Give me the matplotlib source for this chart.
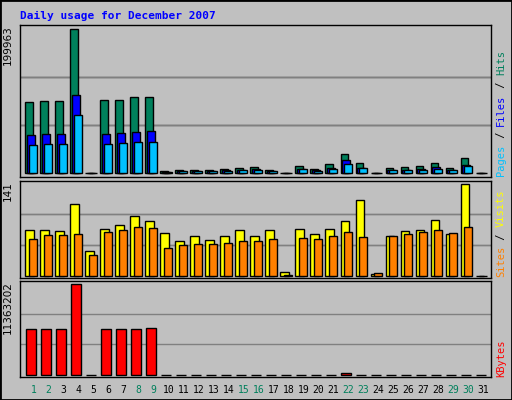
import numpy as np
import matplotlib
matplotlib.use("Agg")
import matplotlib.pyplot as plt

# ----------------------------
# DATA
# ----------------------------
days = list(range(1, 32))
weekend = [1, 2, 8, 9, 15, 16, 22, 23, 29, 30]

max_hits = 199963
hits_frac = [0.498, 0.505, 0.505, 1.0, 0.0, 0.511, 0.511, 0.532, 0.532, 0.016,
             0.023, 0.023, 0.023, 0.029, 0.036, 0.043, 0.023, 0.0, 0.05, 0.029,
             0.063, 0.138, 0.07, 0.0, 0.036, 0.043, 0.05, 0.07, 0.036, 0.104, 0.0]
files_frac = [0.267, 0.274, 0.274, 0.545, 0.0, 0.274, 0.281, 0.287, 0.294, 0.008,
              0.016, 0.016, 0.016, 0.023, 0.023, 0.029, 0.016, 0.0, 0.029, 0.023,
              0.036, 0.09, 0.036, 0.0, 0.023, 0.023, 0.029, 0.043, 0.023, 0.057, 0.0]
pages_frac = [0.199, 0.206, 0.206, 0.403, 0.0, 0.206, 0.213, 0.219, 0.219, 0.008,
              0.016, 0.016, 0.016, 0.016, 0.023, 0.023, 0.016, 0.0, 0.029, 0.016,
              0.029, 0.063, 0.036, 0.0, 0.023, 0.023, 0.023, 0.029, 0.023, 0.05, 0.0]
hits = [f * max_hits for f in hits_frac]
files = [f * max_hits for f in files_frac]
pages = [f * max_hits for f in pages_frac]

max_visits = 141
visits_frac = [0.498, 0.498, 0.487, 0.782, 0.269, 0.509, 0.553, 0.651, 0.596, 0.465,
               0.378, 0.433, 0.389, 0.433, 0.498, 0.433, 0.498, 0.04, 0.509, 0.455,
               0.509, 0.596, 0.825, 0.022, 0.433, 0.487, 0.498, 0.607, 0.455, 1.0, 0.0]
sites_frac = [0.4, 0.444, 0.444, 0.455, 0.225, 0.476, 0.498, 0.531, 0.52, 0.302,
              0.335, 0.345, 0.345, 0.356, 0.378, 0.378, 0.4, 0.01, 0.411, 0.4,
              0.433, 0.476, 0.422, 0.029, 0.433, 0.455, 0.476, 0.498, 0.465, 0.531, 0.0]
visits = [f * max_visits for f in visits_frac]
sites = [f * max_visits for f in sites_frac]

max_kb = 11363202
kb_frac = [0.504, 0.504, 0.504, 1.0, 0.0, 0.504, 0.504, 0.504, 0.515, 0.0,
           0.0, 0.0, 0.0, 0.0, 0.0, 0.0, 0.0, 0.0, 0.0, 0.0,
           0.0, 0.022, 0.0, 0.0, 0.0, 0.0, 0.0, 0.0, 0.0, 0.0, 0.0]
kbytes = [f * max_kb for f in kb_frac]

# ----------------------------
# STYLE
# ----------------------------
W, H = 512, 400
bg = "#C0C0C0"
mono = "DejaVu Sans Mono"
c_hits, c_files, c_pages = "#00805C", "#0000FF", "#00C0FF"
c_visits, c_sites, c_kb = "#FFFF00", "#FF8000", "#FF0000"

fig = plt.figure(figsize=(W / 100, H / 100), dpi=100, facecolor=bg)

# outer frame
frame = fig.add_axes([0, 0, 1, 1])
frame.set_facecolor("none")
frame.set_xticks([])
frame.set_yticks([])
for s in frame.spines.values():
    s.set_linewidth(2)


def panel(y0, y1):
    # pixel box -> figure fraction
    ax = fig.add_axes([20 / W, 1 - y1 / H, (491 - 20) / W, (y1 - y0) / H])
    ax.set_facecolor(bg)
    ax.set_xlim(0.11, 31.5)
    ax.set_xticks([])
    ax.set_yticks([])
    for s in ax.spines.values():
        s.set_linewidth(1)
    return ax


def bars(ax, vals, off, width, color, ymax):
    x = np.array(days) + off
    ax.bar(x, vals, width=width, align="edge", color=color,
           edgecolor="black", linewidth=1, zorder=3)
    for f in (1 / 3, 2 / 3):
        ax.axhline(ymax * f, color="#808080", lw=1, zorder=1)
    ax.set_ylim(-ymax * 0.025, ymax * 1.03)


# top: hits / files / pages
ax1 = panel(25, 177)
bars(ax1, hits, -0.53, 0.49, c_hits, max_hits)
bars(ax1, files, -0.40, 0.49, c_files, max_hits)
bars(ax1, pages, -0.27, 0.49, c_pages, max_hits)

# middle: visits / sites
ax2 = panel(181, 278)
bars(ax2, visits, -0.53, 0.56, c_visits, max_visits)
bars(ax2, sites, -0.27, 0.49, c_sites, max_visits)

# bottom: kbytes
ax3 = panel(281, 377)
bars(ax3, kbytes, -0.47, 0.67, c_kb, max_kb)

# day labels
for d in days:
    col = "#00805C" if d in weekend else "black"
    ax3.text(d, -0.08, str(d), transform=ax3.get_xaxis_transform(),
             ha="center", va="top", fontsize=7, color=col, family=mono)

# title
fig.text(20 / W, 1 - 16 / H, "Daily usage for December 2007", color="#0000FF",
         fontsize=8, fontweight="bold", family=mono, va="center")

# left max labels
for ax, label in ((ax1, str(max_hits)), (ax2, str(max_visits)), (ax3, str(max_kb))):
    ax.text(-0.015, 1.0, label, transform=ax.transAxes, rotation=90,
            ha="right", va="top", fontsize=7.5)


# right legend, reading bottom-up, multi-coloured
def legend_col(parts, y_bottom_px):
    y = 1 - y_bottom_px / H
    for text, col in parts:
        fig.text(496 / W, y, text, rotation=90, color=col, fontsize=7.5,
                 family=mono, ha="left", va="bottom")
        y += len(text) * 6.3 / H


legend_col([("Pages", c_pages), (" / ", "black"), ("Files", c_files),
            (" / ", "black"), ("Hits", c_hits)], 176)
legend_col([("Sites", c_sites), (" / ", "black"), ("Visits", c_visits)], 277)
legend_col([("KBytes", c_kb)], 377)

fig.savefig("out.png", dpi=100, facecolor=bg)
